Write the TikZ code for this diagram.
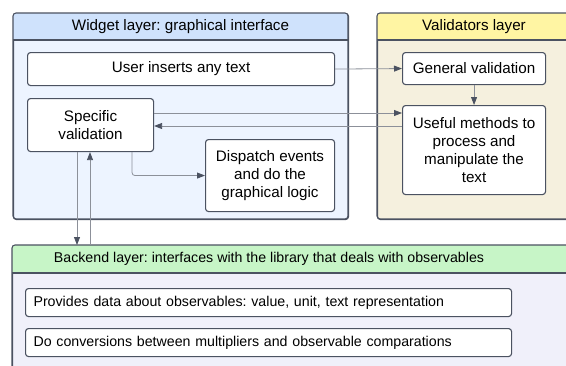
\documentclass[tikz,border=0pt]{standalone}
\usepackage{fontspec}
\setmainfont{Liberation Sans}
\usetikzlibrary{arrows.meta}
\definecolor{bord}{HTML}{4B5261}
\definecolor{linegray}{HTML}{8C9099}
\definecolor{whdr}{HTML}{CFE2FC}
\definecolor{wbody}{HTML}{EDF4FF}
\definecolor{vhdr}{HTML}{FFF5A3}
\definecolor{vbody}{HTML}{F5F0DE}
\definecolor{bhdr}{HTML}{C7F5C7}
\definecolor{bbody}{HTML}{F0F0FA}
\begin{document}
\frenchspacing
\begin{tikzpicture}[x=1pt,y=-1pt,
  font=\fontsize{15.2}{18.3}\selectfont,
  cont/.style={draw=bord, line width=1.1pt, rounded corners=3pt, inner sep=0pt, anchor=north west},
  box/.style={draw=bord, line width=1.1pt, fill=white, rounded corners=3pt, inner sep=0pt, anchor=north west, align=center},
  wide/.style={draw=bord, line width=1.1pt, fill=white, rounded corners=3pt, inner xsep=8pt, inner ysep=0pt, anchor=north west, text width=470pt, align=left, minimum height=28pt, font=\fontsize{14.2}{17}\selectfont},
  conn/.style={draw=linegray, line width=0.8pt, -{Triangle[length=8pt,width=6pt,color=bord]}}]
\useasboundingbox (0,0) rectangle (566,365);
\clip (0,0) rectangle (566,365);
% containers
\node[cont, fill=wbody, minimum width=335pt, minimum height=206pt] (wl) at (13,13) {};
\fill[whdr, rounded corners=3pt] (13,13) rectangle (348,40);
\fill[whdr] (13,28) rectangle (348,40);
\draw[bord, line width=1.1pt] (13,40) -- (348,40);
\draw[bord, line width=1.1pt, rounded corners=3pt] (13,13) rectangle (348,219);
\node (wlh) at (180.5,26.5) {Widget layer: graphical interface};

\node[cont, fill=vbody, minimum width=223pt, minimum height=206pt] (vl) at (377,13) {};
\fill[vhdr, rounded corners=3pt] (377,13) rectangle (600,40);
\fill[vhdr] (377,28) rectangle (600,40);
\draw[bord, line width=1.1pt] (377,40) -- (600,40);
\draw[bord, line width=1.1pt, rounded corners=3pt] (377,13) rectangle (600,219);
\node (vlh) at (474,26.5) {Validators layer};

\node[cont, fill=bbody, minimum width=600pt, minimum height=160pt] (bl) at (12,245) {};
\fill[bhdr, rounded corners=3pt] (12,245) rectangle (612,273);
\fill[bhdr] (12,260) rectangle (612,273);
\draw[bord, line width=1.1pt] (12,273) -- (612,273);
\draw[bord, line width=1.1pt, rounded corners=3pt] (12,245) rectangle (612,405);
\node[font=\fontsize{14.2}{17}\selectfont] (blh) at (269,259) {Backend layer: interfaces with the library that deals with observables};

% boxes
\node[box, minimum width=307pt, minimum height=33pt] (ui) at (27,52) {User inserts any text};
\node[box, minimum width=126pt, minimum height=53pt] (sv) at (27,98) {Specific\\validation};
\node[box, minimum width=129pt, minimum height=72pt] (dp) at (205,139) {Dispatch events\\and do the\\graphical logic};
\node[box, minimum width=143pt, minimum height=32pt] (gv) at (402,52) {General validation};
\node[box, minimum width=143pt, minimum height=89pt] (um) at (402,105) {Useful methods to\\process and\\manipulate the\\text};
\node[wide] (p1) at (25,288) {Provides data about observables: value, unit, text representation};
\node[wide] (p2) at (25,328) {Do conversions between multipliers and observable comparations};

% helper coordinates
\coordinate (c77) at (77,0);
\coordinate (c90) at (90,0);
\coordinate (c132) at (132,0);
\coordinate (y113) at (0,113);
\coordinate (y126) at (0,126);

% connectors
\draw[conn] (ui.east) -- (gv.west);
\draw[conn] (gv.south) -- (um.north);
\draw[conn] (sv.east |- y113) -- (um.west |- y113);
\draw[conn] (um.west |- y126) -- (sv.east |- y126);
\draw[conn, rounded corners=3pt] (sv.south -| c132) |- (dp.west);
\draw[conn] (sv.south -| c77) -- (bl.north -| c77);
\draw[conn] (bl.north -| c90) -- (sv.south -| c90);
\end{tikzpicture}
\end{document}
